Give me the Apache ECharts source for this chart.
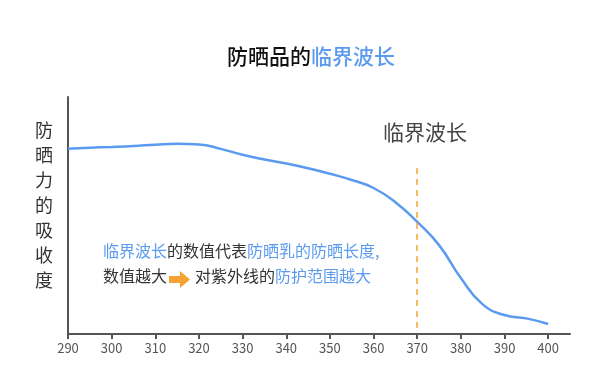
<!DOCTYPE html>
<html lang="zh">
<head>
<meta charset="utf-8"/>
<script src="https://cdn.jsdelivr.net/npm/echarts@6/dist/echarts.min.js"></script>
<style>
    html, body { margin: 0; padding: 0; background: #fff; }
    #main { width: 590px; height: 376px; }
</style>
</head>
<body>
<div id="main"></div>
<script>
    // 波长 (nm)
    var wavelengths = [290, 295, 300, 305, 310, 315, 320, 325, 330, 335, 340, 345, 350,
        355, 360, 365, 370, 375, 380, 385, 390, 395, 400];
    // 吸收度
    var absorb = [78.2, 78.6, 78.9, 79.3, 79.9, 80.3, 80.0, 78.1, 75.6, 73.6, 71.9, 69.9, 67.6,
        65.0, 61.6, 55.6, 47.3, 37.5, 23.6, 12.5, 8.0, 6.6, 4.2];
    var tickValues = [290, 300, 310, 320, 330, 340, 350, 360, 370, 380, 390, 400];
    var criticalWave = 370;
    var markTop = 70, markBottom = 1.7;

    var blue = '#5b9bef';
    var orange = '#f7a234';
    var font = '"Noto Sans CJK SC", "Noto Sans", sans-serif';

    var chart = echarts.init(document.getElementById('main'));
    var option = {
        animation: false,
        textStyle: { fontFamily: font },
        title: {
            text: '{a|防晒品的}{b|临界波长}',
            left: 222,
            top: 41,
            textStyle: {
                rich: {
                    a: { fontSize: 21, color: '#111', fontFamily: font, fontWeight: 500 },
                    b: { fontSize: 21, color: blue, fontFamily: font, fontWeight: 500 }
                }
            }
        },
        grid: { left: 68, right: 20, top: 97, bottom: 42 },
        xAxis: {
            type: 'value',
            min: 290,
            max: 405,
            splitLine: { show: false },
            axisLine: { lineStyle: { color: '#555', width: 2 } },
            axisTick: { show: true, length: 5, customValues: tickValues, lineStyle: { color: '#555', width: 2 } },
            axisLabel: { customValues: tickValues, color: '#555', fontSize: 13, margin: 8 }
        },
        yAxis: {
            type: 'value',
            min: 0,
            max: 100,
            splitLine: { show: false },
            axisTick: { show: false },
            axisLabel: { show: false },
            axisLine: { show: true, lineStyle: { color: '#555', width: 2 } }
        },
        series: [{
            type: 'line',
            data: wavelengths.map(function (w, i) { return [w, absorb[i]]; }),
            smooth: 0.5,
            symbol: 'none',
            lineStyle: { color: blue, width: 2.5 },
            markLine: {
                silent: true,
                symbol: 'none',
                label: { show: false },
                lineStyle: { color: orange, type: [6, 5], width: 1.5 },
                data: [[{ coord: [criticalWave, markTop] }, { coord: [criticalWave, markBottom] }]]
            }
        }],
        graphic: [
            {
                type: 'text',
                left: 35,
                top: 118,
                style: {
                    text: '防\n晒\n力\n的\n吸\n收\n度',
                    font: '18px ' + font,
                    fill: '#333',
                    lineHeight: 25
                }
            },
            {
                type: 'text',
                left: 383,
                top: 122,
                style: { text: '临界波长', font: '21px ' + font, fill: '#444' }
            },
            {
                type: 'text',
                left: 103,
                top: 243,
                style: {
                    text: '{b|临界波长}{a|的数值代表}{b|防晒乳的防晒长度,}',
                    rich: {
                        a: { fontSize: 16, fill: '#333', fontFamily: font },
                        b: { fontSize: 16, fill: blue, fontFamily: font }
                    }
                }
            },
            {
                type: 'text',
                left: 103,
                top: 268,
                style: { text: '数值越大', font: '16px ' + font, fill: '#333' }
            },
            {
                type: 'polygon',
                shape: { points: [[169, 276], [180, 276], [180, 271], [190, 279.5], [180, 288], [180, 283], [169, 283]] },
                style: { fill: orange }
            },
            {
                type: 'text',
                left: 195,
                top: 268,
                style: {
                    text: '{a|对紫外线的}{b|防护范围越大}',
                    rich: {
                        a: { fontSize: 16, fill: '#333', fontFamily: font },
                        b: { fontSize: 16, fill: blue, fontFamily: font }
                    }
                }
            }
        ]
    };
    chart.setOption(option);
</script>
</body>
</html>
